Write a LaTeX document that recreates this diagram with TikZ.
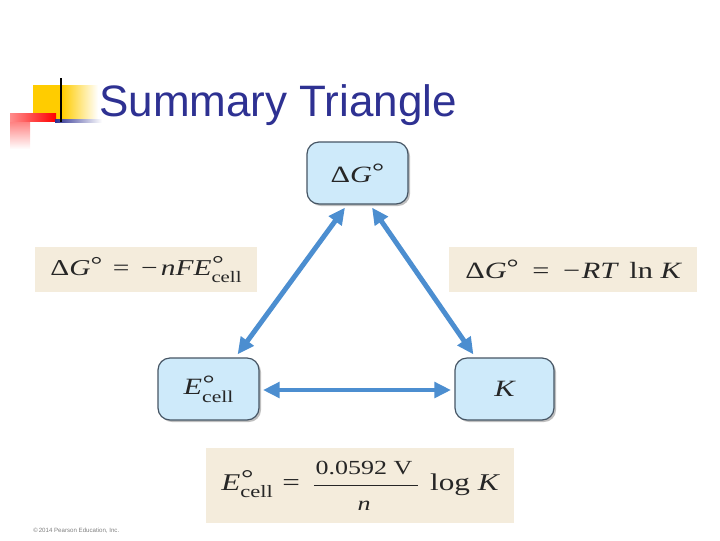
\documentclass[tikz,border=0pt]{standalone}
\usepackage{fontspec}
\usepackage{graphicx}
\newfontfamily\titlefont{Liberation Sans}
\newfontfamily\tm{Liberation Serif}
\usetikzlibrary{shadows,arrows.meta,calc}
\definecolor{boxblue}{RGB}{206,234,250}
\definecolor{boxedge}{RGB}{70,85,100}
\definecolor{beige}{RGB}{244,236,220}
\definecolor{arrblue}{RGB}{76,142,208}
\definecolor{navy}{RGB}{46,49,146}
\definecolor{logoyellow}{RGB}{255,204,0}
\newcommand{\degsym}{\raisebox{0.12em}{°}}
\newcommand{\Ec}[1]{{\itshape E}\makebox[0pt][l]{\hspace{0.02em}\raisebox{0.16em}{°}}\raisebox{-0.32em}{\fontsize{#1}{#1}\selectfont cell}}
\newcommand{\wide}[2]{\scalebox{1.3}[1]{\fontsize{#1}{#1}\selectfont\tm #2}}
\tikzset{
  qbox/.style={draw=boxedge, line width=0.9pt, fill=boxblue, rounded corners=9pt,
    minimum width=75.75pt, minimum height=46.5pt, inner sep=0pt, text=black!85,
    drop shadow={shadow xshift=1.5pt, shadow yshift=-1.5pt, fill=black, opacity=0.25}},
  eqbox/.style={fill=beige, inner sep=0pt, minimum height=33.75pt, text=black!85},
  arr/.style={draw=arrblue, line width=3.7pt, {Triangle[length=12.5pt,width=11.5pt]}-{Triangle[length=12.5pt,width=11.5pt]}}
}
\begin{document}
\begin{tikzpicture}[x=0.75pt,y=-0.75pt]
\useasboundingbox (0,0) rectangle (720,540);
% logo
\fill[logoyellow] (33,85) rectangle (62,119);
\shade[left color=logoyellow, right color=white] (62,85) rectangle (98,119);
\shade[top color=red!65, bottom color=white] (10,113) rectangle (30,149);
\shade[left color=red!45, right color=red] (10,113) rectangle (56,121);
\shade[left color=navy, right color=white] (55,119) rectangle (102,122);
\draw[black, line width=1.5pt] (61,78) -- (61,122);
% title
\node[anchor=west, text=navy, font=\titlefont\fontsize{33}{36}\selectfont, inner sep=0pt] (title) at (99,105) {Summary Triangle};
% boxes
\node[qbox] (dg) at (357.5,173) {\wide{17.5}{Δ{\itshape G}\degsym}};
\node[qbox] (e) at (208.5,389) {\wide{17.5}{\Ec{12.5}}};
\node[qbox, minimum width=74.25pt] (k) at (504.5,389) {\wide{17.5}{\itshape K}};
% equations
\node[eqbox, minimum width=166.5pt] (eq1) at (146,269.5) {\wide{17}{Δ{\itshape G}\degsym\hspace{0.35em}=\hspace{0.4em}−\hspace{0.1em}{\itshape nF}\Ec{12}}};
\node[eqbox, minimum width=186pt] (eq2) at (573,269.5) {\wide{17.5}{Δ{\itshape G}\degsym\hspace{0.45em}=\hspace{0.45em}−\hspace{0.05em}{\itshape RT}\hspace{0.4em}ln\hspace{0.25em}{\itshape K}}};
\node[eqbox, minimum width=231pt, minimum height=56.25pt] (eq3) at (360,485.5) {\wide{18}{\Ec{13}\hspace{0.3em}=\hspace{0.45em}{\fontsize{15}{18}\selectfont\setlength{\arrayrulewidth}{1.1pt}\def\arraystretch{1.45}\begin{tabular}{@{\hspace{1pt}}c@{\hspace{3pt}}}0.0592 V\\\hline{\itshape n}\end{tabular}}\hspace{0.4em}log {\itshape K}}};
% arrows
\draw[arr] ([xshift=-9.4pt,yshift=-2.25pt]dg.south) -- ([xshift=-16.5pt,yshift=2.25pt]e.north east);
\draw[arr] ([xshift=10.9pt,yshift=-2.25pt]dg.south) -- ([xshift=14.25pt,yshift=2.25pt]k.north west);
\draw[arr] ([xshift=2.5pt,yshift=-0.75pt]e.east) -- ([xshift=-2.5pt,yshift=-0.75pt]k.west);
% copyright
\node[anchor=west, text=gray, font=\titlefont\fontsize{4.6}{5}\selectfont, inner sep=0pt] (copy) at (33,531) {\textcopyright\,2014 Pearson Education, Inc.};
\end{tikzpicture}
\end{document}
